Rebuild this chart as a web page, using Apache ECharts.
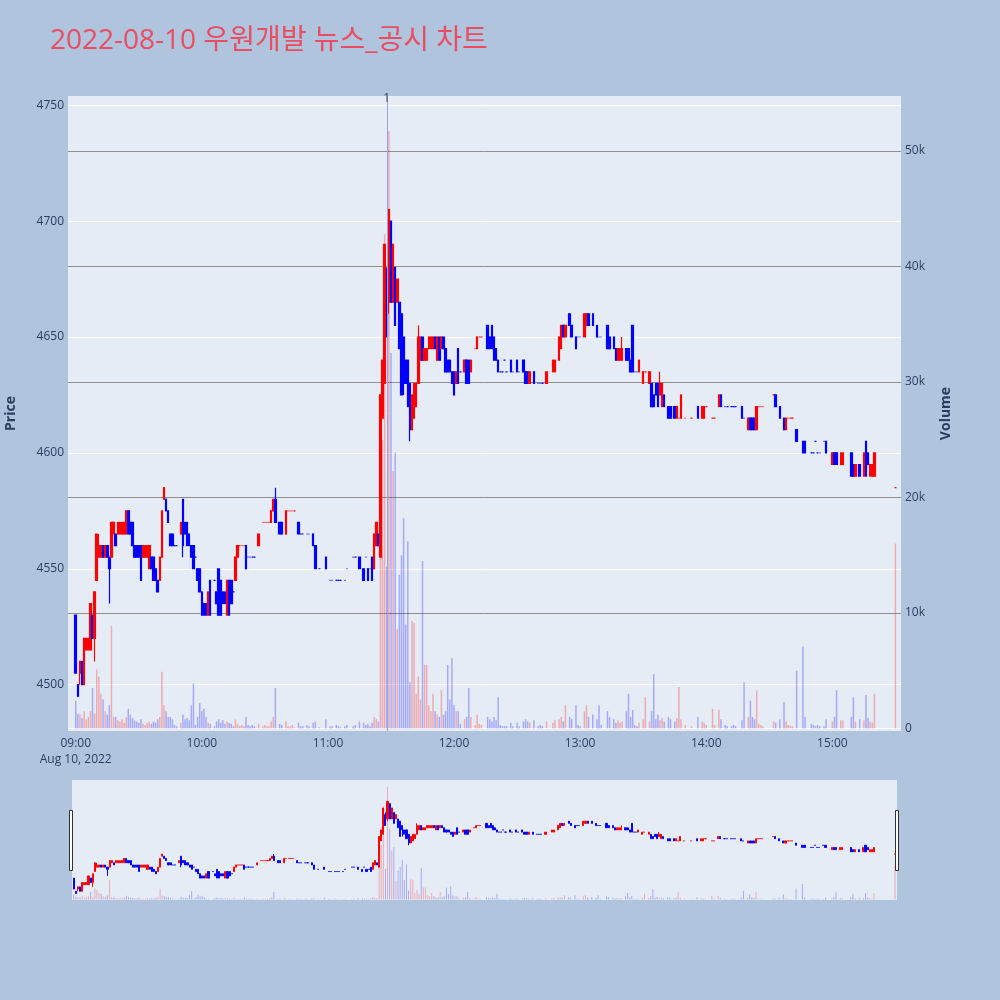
<!DOCTYPE html>
<html><head><meta charset="utf-8">
<script src="https://cdn.jsdelivr.net/npm/echarts@6/dist/echarts.min.js"></script>
<style>html,body{margin:0;padding:0;background:#b0c4de}#c{width:1000px;height:1000px}</style>
</head><body><div id="c"></div><script>
const TITLE = '2022-08-10 우원개발 뉴스_공시 차트';
const DATE_LABEL = 'Aug 10, 2022';
// one entry per minute from 09:00 (index 0) to 15:30 (index 390); null = no trade
const opens = [
4530,4500,4505,4510,4500,4515,4515,4515,4530,4520,
4545,4555,4555,4560,4555,4560,4555,4555,4565,4565,
4565,4565,4565,4565,4565,4575,4570,4570,4560,4560,
4560,4560,4555,4555,4555,4550,4555,4555,4550,4545,
4545,4555,4580,4580,4575,4565,4565,4560,4560,null,
4565,4580,4570,4570,4565,4560,4560,4555,4550,4550,
4540,4535,4535,4530,4545,null,4545,4540,4550,4545,
4540,4540,4530,4545,4545,4540,4545,4555,4560,4560,
4560,4560,4555,4555,4555,4555,null,4560,null,4570,
4570,4570,4570,4570,4575,4580,null,4570,4570,null,
4565,4575,4575,4575,4575,null,4570,4565,4565,null,
4565,4565,null,4565,4560,null,4550,null,null,4555,
null,4545,4545,null,4545,4545,4545,null,4545,4550,
null,null,4555,4555,null,4555,null,4550,4555,4550,
4550,4555,4550,4560,4565,4555,4615,4630,4675,4665,
4700,4665,4680,4665,4665,4660,4650,4640,4640,4630,
4610,4615,4620,4630,4640,4650,4640,4640,4645,4645,
4645,4650,4640,4650,4645,4650,4645,4640,4640,4635,
4635,4630,4645,4635,null,4635,4640,4640,4635,null,
4645,4645,4650,4650,null,null,4655,4650,4655,4650,
4645,4640,4635,4635,4640,4635,null,4640,4635,null,
4640,4635,null,4640,4635,4635,4630,null,4635,null,
4630,4630,4630,null,4630,null,null,4635,4635,null,
4640,4645,4655,4650,null,4660,4655,null,4650,4650,
4650,null,4650,4655,4660,null,4660,null,4655,4650,
4650,null,null,4655,4650,null,4650,4645,4640,4640,
4640,null,4645,4645,4640,4655,4635,4635,4635,null,
4630,4635,null,4630,4630,4625,4630,4630,4625,4620,
4625,null,4620,4620,null,4620,4615,4615,4615,null,
4615,null,null,4615,null,null,4620,null,4615,4615,
4620,null,null,4615,4615,null,4620,4625,null,4620,
4620,null,4620,4620,4620,null,null,4620,4615,null,
4610,4615,4615,4615,4610,4620,4620,4620,null,null,
null,null,4625,4625,null,4620,null,4615,4610,4615,
4615,4615,null,4610,null,null,4605,4605,null,null,
4600,4600,4605,4600,4600,null,4605,4605,null,null,
4595,4600,4600,null,4595,4595,null,null,null,4600,
4595,4590,null,4595,null,4590,4605,4600,4590,4590,
4590,null,null,null,null,null,null,null,null,null,
4585];
const closes = [
4505,4495,4510,4500,4520,4520,4520,4535,4520,4540,
4565,4560,4560,4555,4560,4555,4550,4570,4570,4560,
4570,4570,4570,4570,4575,4565,4565,4560,4555,4555,
4555,4545,4560,4560,4560,4560,4550,4545,4545,4540,
4555,4575,4585,4575,4570,4560,4560,4560,4560,null,
4570,4560,4565,4560,4560,4555,4550,4555,4545,4540,
4530,4530,4530,4540,4530,null,4545,4535,4530,4530,
4535,4535,4545,4530,4535,4540,4555,4560,4560,4560,
4560,4550,4555,4555,4555,4555,null,4565,null,4570,
4570,4570,4570,4575,4580,4570,null,4565,4565,null,
4575,4575,4575,4575,4575,null,4565,4565,4565,null,
4565,4565,null,4560,4550,null,4550,null,null,4550,
null,4545,4545,null,4545,4545,4545,null,4545,4550,
null,null,4555,4555,null,4550,null,4545,4555,4545,
4550,4545,4565,4570,4560,4625,4640,4690,4650,4705,
4665,4690,4655,4675,4645,4625,4640,4630,4620,4610,
4625,4630,4630,4650,4650,4640,4645,4645,4650,4650,
4650,4645,4650,4640,4650,4645,4635,4635,4635,4630,
4625,4635,4630,4635,null,4640,4630,4630,4640,null,
4645,4650,4650,4650,null,null,4645,4645,4645,4640,
4640,4635,4635,4635,4640,4635,null,4635,4635,null,
4635,4635,null,4635,4630,4630,4635,null,4630,null,
4630,4630,4630,null,4635,null,null,4640,4640,null,
4650,4655,4650,4655,null,4655,4650,null,4645,4650,
4650,null,4660,4660,4655,null,4655,null,4650,4650,
4650,null,null,4645,4645,null,4645,4640,4645,4645,
4645,null,4640,4640,4635,4635,4635,4635,4640,null,
4635,4635,null,4635,4620,4620,4625,4620,4630,4630,
4620,null,4615,4615,null,4615,4620,4615,4625,null,
4615,null,null,4615,null,null,4615,null,4620,4620,
4620,null,null,4615,4615,null,4625,4620,null,4620,
4620,null,4620,4620,4620,null,null,4615,4615,null,
4615,4610,4610,4610,4620,4620,4620,4620,null,null,
null,null,4625,4620,null,4615,null,4610,4615,4615,
4615,4615,null,4605,null,null,4600,4600,null,null,
4600,4600,4605,4600,4600,null,4605,4600,null,null,
4600,4595,4595,null,4600,4600,null,null,null,4590,
4590,4595,null,4590,null,4600,4590,4595,4595,4595,
4600,null,null,null,null,null,null,null,null,null,
4585];
const highs = [
4530,4500,4510,4510,4520,4520,4520,4535,4530,4540,
4565,4565,4560,4560,4560,4560,4555,4570,4570,4565,
4570,4570,4570,4570,4575,4575,4570,4570,4560,4560,
4560,4560,4560,4560,4560,4560,4555,4555,4550,4545,
4555,4575,4585,4580,4575,4565,4565,4560,4560,null,
4570,4580,4570,4570,4565,4560,4560,4555,4550,4550,
4540,4535,4535,4540,4545,null,4545,4540,4550,4545,
4540,4540,4545,4545,4545,4540,4555,4560,4560,4560,
4560,4560,4555,4555,4555,4555,null,4565,null,4570,
4570,4570,4570,4575,4580,4585,null,4570,4570,null,
4575,4575,4575,4575,4575,null,4570,4565,4565,null,
4565,4565,null,4565,4560,null,4550,null,null,4555,
null,4545,4545,null,4545,4545,4545,null,4545,4550,
null,null,4555,4555,null,4555,null,4550,4555,4550,
4550,4555,4565,4570,4565,4625,4640,4690,4680,4705,
4700,4690,4680,4675,4665,4660,4650,4640,4640,4630,
4625,4630,4630,4655,4650,4650,4645,4645,4650,4650,
4650,4650,4650,4650,4650,4650,4645,4640,4640,4635,
4635,4635,4645,4635,null,4640,4640,4640,4640,null,
4645,4650,4650,4650,null,null,4655,4650,4655,4650,
4645,4640,4635,4635,4640,4635,null,4640,4635,null,
4640,4635,null,4640,4635,4635,4635,null,4635,null,
4630,4630,4630,null,4635,null,null,4640,4640,null,
4650,4655,4655,4655,null,4660,4655,null,4650,4650,
4650,null,4660,4660,4660,null,4660,null,4655,4650,
4650,null,null,4655,4650,null,4650,4645,4645,4645,
4650,null,4645,4645,4640,4655,4635,4635,4640,null,
4635,4635,null,4635,4630,4625,4630,4630,4635,4630,
4625,null,4620,4620,null,4620,4620,4615,4625,null,
4615,null,null,4615,null,null,4620,null,4620,4620,
4620,null,null,4615,4615,null,4625,4625,null,4620,
4620,null,4620,4620,4620,null,null,4620,4615,null,
4615,4615,4615,4615,4620,4620,4620,4620,null,null,
null,null,4625,4625,null,4620,null,4615,4615,4615,
4615,4615,null,4610,null,null,4605,4605,null,null,
4600,4600,4605,4600,4600,null,4605,4605,null,null,
4600,4600,4600,null,4600,4600,null,null,null,4600,
4595,4595,null,4595,null,4600,4605,4600,4595,4595,
4600,null,null,null,null,null,null,null,null,null,
4585];
const lows = [
4505,4495,4500,4500,4500,4515,4515,4515,4520,4510,
4545,4555,4555,4555,4555,4555,4535,4555,4565,4560,
4565,4565,4565,4565,4565,4565,4565,4560,4555,4555,
4555,4545,4555,4555,4555,4550,4550,4545,4545,4540,
4545,4555,4580,4575,4570,4560,4560,4560,4560,null,
4565,4555,4565,4560,4560,4555,4550,4555,4545,4540,
4530,4530,4530,4530,4530,null,4545,4535,4530,4530,
4535,4535,4530,4530,4535,4540,4545,4555,4560,4560,
4560,4550,4555,4555,4555,4555,null,4560,null,4570,
4570,4570,4570,4570,4575,4570,null,4565,4565,null,
4565,4575,4575,4575,4575,null,4565,4565,4565,null,
4565,4565,null,4560,4550,null,4550,null,null,4550,
null,4545,4545,null,4545,4545,4545,null,4545,4550,
null,null,4555,4555,null,4550,null,4545,4555,4545,
4550,4545,4550,4560,4560,4555,4615,4630,4650,4660,
4665,4665,4655,4665,4645,4625,4625,4630,4620,4605,
4610,4615,4620,4630,4640,4640,4640,4640,4645,4645,
4645,4645,4640,4640,4645,4645,4635,4635,4635,4630,
4625,4630,4630,4635,null,4635,4630,4630,4635,null,
4645,4645,4650,4650,null,null,4645,4645,4645,4640,
4640,4635,4635,4635,4640,4635,null,4635,4635,null,
4635,4635,null,4635,4630,4630,4630,null,4630,null,
4630,4630,4630,null,4630,null,null,4635,4635,null,
4640,4645,4650,4650,null,4655,4650,null,4645,4650,
4650,null,4650,4655,4655,null,4655,null,4650,4650,
4650,null,null,4645,4645,null,4645,4640,4640,4640,
4640,null,4640,4640,4635,4635,4635,4635,4635,null,
4630,4635,null,4630,4620,4620,4625,4620,4625,4620,
4620,null,4615,4615,null,4615,4615,4615,4615,null,
4615,null,null,4615,null,null,4615,null,4615,4615,
4620,null,null,4615,4615,null,4620,4620,null,4620,
4620,null,4620,4620,4620,null,null,4615,4615,null,
4610,4610,4610,4610,4610,4620,4620,4620,null,null,
null,null,4625,4620,null,4615,null,4610,4610,4615,
4615,4615,null,4605,null,null,4600,4600,null,null,
4600,4600,4605,4600,4600,null,4605,4600,null,null,
4595,4595,4595,null,4595,4595,null,null,null,4590,
4590,4590,null,4590,null,4590,4590,4595,4590,4590,
4590,null,null,null,null,null,null,null,null,null,
4585];
const volumes = [
2400,1300,1200,900,1500,800,1000,1500,3500,1300,
5100,4500,3000,2500,1500,1200,2000,8900,1000,1000,
700,600,800,500,1000,1700,1200,900,700,600,
500,800,400,300,500,600,400,600,500,800,
1000,4900,2000,1500,1000,1000,800,300,200,null,
500,1200,800,900,700,2000,3900,300,1000,2200,
1500,1700,1000,500,400,null,200,600,800,500,
700,400,600,500,400,200,800,400,200,300,
200,1000,300,200,300,200,null,400,null,200,
300,200,200,600,1000,3500,null,400,300,null,
600,200,200,300,100,null,500,200,200,null,
300,200,null,500,600,null,100,null,null,800,
null,200,200,null,300,200,100,null,200,300,
null,null,200,300,null,600,null,500,300,400,
200,500,1000,800,600,18000,25000,42800,14000,51700,
32500,22300,23900,8600,13300,15000,18200,9000,16200,4000,
9300,9100,3000,4500,2500,14500,5500,5500,2000,1500,
3000,1500,1200,1000,3300,1200,1500,5500,2500,6100,
2000,1500,1500,400,null,800,1000,3500,1000,null,
300,1200,400,300,null,null,1000,800,600,1000,
700,2700,300,200,200,200,null,500,200,null,
500,200,null,600,800,600,500,null,700,null,
200,300,200,null,600,null,null,500,700,null,
800,1000,600,2000,null,1000,800,null,2000,300,
200,null,1500,2000,1000,null,1200,null,800,2000,
300,null,null,1500,1000,null,800,500,700,500,
600,null,1500,3000,1000,1600,300,200,500,null,
800,2700,null,600,1500,4700,800,1200,700,900,
600,null,1000,800,null,600,900,3600,800,null,
300,null,null,200,null,null,1000,null,600,500,
300,null,null,1700,300,null,1600,800,null,300,
200,null,200,300,200,null,null,700,4000,null,
1000,2400,1000,800,3300,400,300,200,null,null,
null,null,600,500,null,800,null,2300,600,300,
200,200,null,5000,null,null,7100,1000,null,null,
400,300,200,300,200,null,200,800,null,null,
600,1000,3300,null,700,700,null,null,null,1000,
2700,600,null,800,null,700,2900,900,600,500,
3000,null,null,null,null,null,null,null,null,null,
16000];
const newsMinutes = [148];   // 11:28
const newsLabels = ['1'];
const priceTicks = [4500, 4550, 4600, 4650, 4700, 4750];
const volumeTicks = [0, 10000, 20000, 30000, 40000, 50000];

const UP = '#ff0000', DOWN = '#0000ff';
const UP_V = 'rgba(255,0,0,0.28)', DOWN_V = 'rgba(0,0,255,0.28)';
const start = new Date(2022, 7, 10, 9, 0, 0).getTime();
const T = m => start + m * 60000;

const candles = [], vols = [];
let prevDir = 1;
for (let i = 0; i < opens.length; i++) {
  if (opens[i] == null) continue;
  const o = opens[i], c = closes[i];
  const dir = c > o ? 1 : (c < o ? -1 : prevDir);
  prevDir = dir;
  const col = dir > 0 ? UP : DOWN;
  candles.push({value: [T(i), o, c, lows[i], highs[i]],
    itemStyle: {color: col, color0: col, borderColor: col, borderColor0: col, borderColorDoji: col}});
  vols.push({value: [T(i), volumes[i]], itemStyle: {color: dir > 0 ? UP_V : DOWN_V}});
}

const FONT = '"Open Sans", "Noto Sans CJK KR", sans-serif';
const TXT = '#2a3f5f';
const pad2 = n => (n < 10 ? '0' : '') + n;
const CLEAR = 'rgba(0,0,0,0)';

const chart = echarts.init(document.getElementById('c'));
chart.setOption({
  backgroundColor: '#b0c4de',
  animation: false,
  textStyle: {fontFamily: FONT},
  title: {text: TITLE, left: 45, top: 22,
    textStyle: {color: '#ea4c62', fontSize: 28, fontWeight: 'normal', fontFamily: FONT}},
  grid: [
    {left: 68, right: 99, top: 96, height: 635, show: true, backgroundColor: '#e5ecf6', borderWidth: 0,
     containLabel: false, outerBoundsMode: 'none'},
    {left: 72, right: 103, top: 780, height: 120, show: true, backgroundColor: '#e5ecf6', borderWidth: 0,
     containLabel: false, outerBoundsMode: 'none'}
  ],
  xAxis: [
    {type: 'time', gridIndex: 0, min: T(-3.32), max: T(392.3),
     minInterval: 3600000, maxInterval: 3600000,
     axisLine: {show: false}, axisTick: {show: false}, splitLine: {show: false},
     axisLabel: {color: TXT, fontSize: 12, margin: 5, showMinLabel: false, showMaxLabel: false,
       lineHeight: 16, hideOverlap: false,
       formatter: v => { const d = new Date(v); const s = pad2(d.getHours()) + ':' + pad2(d.getMinutes());
         return (d.getHours() === 9 && d.getMinutes() === 0) ? s + '\n' + DATE_LABEL : s; }}},
    {type: 'time', gridIndex: 1, min: T(-0.6), max: T(390.7), show: false}
  ],
  yAxis: [
    {type: 'value', gridIndex: 0, position: 'left', min: 4480, max: 4754, splitNumber: 5,
     axisLine: {show: false}, axisTick: {show: false},
     splitLine: {lineStyle: {color: [CLEAR, '#ffffff', '#ffffff', '#ffffff', '#ffffff', '#ffffff', '#ffffff', CLEAR], width: 1}},
     axisLabel: {color: TXT, fontSize: 12, margin: 4, showMinLabel: false, showMaxLabel: false,
       formatter: v => priceTicks.includes(v) ? String(v) : ''},
     name: 'Price', nameLocation: 'middle', nameGap: 50, nameRotate: 90,
     nameTextStyle: {color: TXT, fontSize: 14, fontWeight: 'bold', fontFamily: FONT}},
    {type: 'value', gridIndex: 0, position: 'right', min: -220, max: 54760, splitNumber: 5,
     axisLine: {show: false}, axisTick: {show: false},
     splitLine: {lineStyle: {color: [CLEAR, '#ffffff', '#8f8f8f', '#8f8f8f', '#8f8f8f', '#8f8f8f', '#8f8f8f', CLEAR], width: 1}},
     axisLabel: {color: TXT, fontSize: 12, margin: 4, showMinLabel: false, showMaxLabel: false,
       formatter: v => volumeTicks.includes(v) ? (v === 0 ? '0' : (v / 1000) + 'k') : ''},
     name: 'Volume', nameLocation: 'middle', nameGap: 38, nameRotate: 90,
     nameTextStyle: {color: TXT, fontSize: 14, fontWeight: 'bold', fontFamily: FONT}},
    {type: 'value', gridIndex: 1, min: 4480, max: 4754, show: false, splitLine: {show: false}},
    {type: 'value', gridIndex: 1, min: -220, max: 54760, show: false, splitLine: {show: false}}
  ],
  series: [
    {type: 'bar', xAxisIndex: 0, yAxisIndex: 1, data: vols, barWidth: 1.5,
     encode: {x: 0, y: 1}},
    {type: 'candlestick', xAxisIndex: 0, yAxisIndex: 0, data: candles, barWidth: 2,
     dimensions: ['time', 'open', 'close', 'low', 'high'],
     encode: {x: 0, y: [1, 2, 3, 4]},
     itemStyle: {borderWidth: 1.2},
     markLine: {symbol: 'none', silent: true, animation: false,
       lineStyle: {color: '#95a4ea', width: 1, type: 'solid'},
       label: {show: true, position: 'end', distance: -9, color: '#444', fontSize: 12,
         formatter: p => p.name},
       data: newsMinutes.map((m, k) => ({name: newsLabels[k], xAxis: T(m)}))}},
    {type: 'bar', xAxisIndex: 1, yAxisIndex: 3, data: vols, barWidth: 1,
     encode: {x: 0, y: 1}},
    {type: 'candlestick', xAxisIndex: 1, yAxisIndex: 2, data: candles, barWidth: 1.6,
     dimensions: ['time', 'open', 'close', 'low', 'high'],
     encode: {x: 0, y: [1, 2, 3, 4]},
     itemStyle: {borderWidth: 1}}
  ],
  graphic: [
    {type: 'rect', shape: {x: 69.5, y: 810.5, width: 3, height: 60},
     style: {fill: '#ffffff', stroke: '#333333', lineWidth: 1}},
    {type: 'rect', shape: {x: 895.5, y: 810.5, width: 3, height: 60},
     style: {fill: '#ffffff', stroke: '#333333', lineWidth: 1}}
  ]
});
</script></body></html>
